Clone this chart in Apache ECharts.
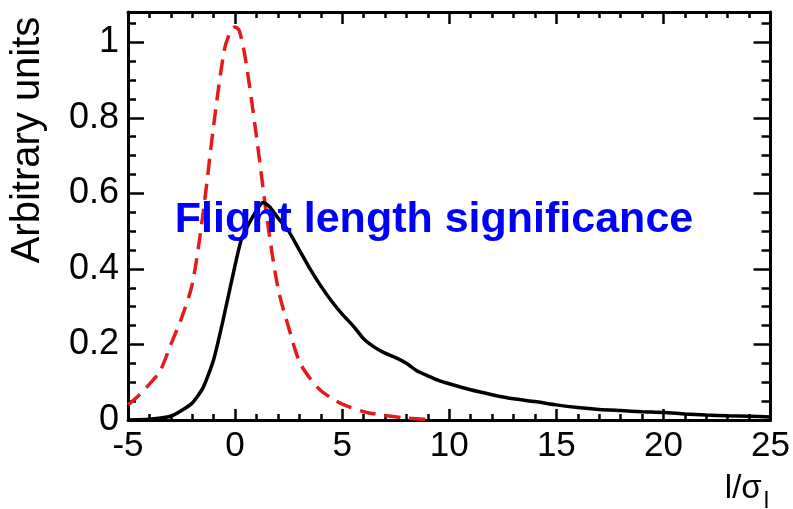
<!DOCTYPE html>
<html>
<head>
<meta charset="utf-8">
<script src="https://cdn.jsdelivr.net/npm/echarts@6/dist/echarts.min.js"></script>
<style>html,body{margin:0;padding:0;background:#fff;}#c{width:793px;height:509px;}</style>
</head>
<body>
<div id="c"></div>
<script>
// Red dashed curve (resolution-like distribution)
var redX = [-5, -4.5, -4, -3.5, -3, -2.5, -2, -1.5, -1, -0.5, -0.2, 0, 0.2, 0.5, 1, 1.5, 2, 2.5, 3, 3.5, 4, 4.5, 5, 6, 7, 8, 9];
var redY = [0.04, 0.065, 0.095, 0.13, 0.2, 0.27, 0.36, 0.545, 0.78, 0.98, 1.03, 1.04, 1.03, 0.95, 0.75, 0.53, 0.35, 0.245, 0.155, 0.11, 0.078, 0.058, 0.042, 0.022, 0.012, 0.005, 0.002];
// Black solid curve (flight length significance distribution)
var blackX = [-5, -4, -3, -2.5, -2, -1.5, -1, -0.5, 0, 0.3, 0.6, 1, 1.3, 1.6, 2, 2.5, 3, 3.5, 4, 4.5, 5, 5.5, 6, 6.5, 7, 7.5, 8, 8.5, 9, 9.5, 10, 11, 12, 13, 14, 15, 16, 17, 18, 19, 20, 21, 22, 23, 24, 25];
var blackY = [0, 0.002, 0.01, 0.025, 0.045, 0.085, 0.16, 0.28, 0.41, 0.48, 0.515, 0.555, 0.576, 0.565, 0.535, 0.5, 0.45, 0.4, 0.355, 0.315, 0.28, 0.25, 0.215, 0.193, 0.177, 0.165, 0.15, 0.13, 0.117, 0.105, 0.096, 0.08, 0.067, 0.056, 0.049, 0.04, 0.033, 0.028, 0.025, 0.022, 0.02, 0.016, 0.013, 0.011, 0.01, 0.008];
var xTicks = [-5, 0, 5, 10, 15, 20, 25];
var yTicks = [0, 0.2, 0.4, 0.6, 0.8, 1];
var titleText = 'Flight length significance';
var yName = 'Arbitrary units';

function pairs(xs, ys) { return xs.map(function (x, i) { return [x, ys[i]]; }); }

var FONT = 'Liberation Sans, Arial, sans-serif';
var chart = echarts.init(document.getElementById('c'), null, {renderer: 'canvas'});

function xAx(pos, showLabel, majLen, minLen) {
  return {
    type: 'value', position: pos, min: xTicks[0], max: xTicks[xTicks.length - 1], interval: 5,
    axisLine: {show: true, onZero: false, lineStyle: {color: '#000', width: 3}},
    axisTick: {show: true, inside: true, length: majLen, lineStyle: {color: '#000', width: 2.5}},
    minorTick: {show: true, splitNumber: 5, length: minLen, lineStyle: {color: '#000', width: 2.5}},
    splitLine: {show: false}, minorSplitLine: {show: false},
    axisLabel: {show: showLabel, color: '#000', fontSize: 35, fontFamily: FONT, margin: 9}
  };
}
function yAx(pos, showLabel, majLen, minLen) {
  return {
    type: 'value', position: pos, min: 0, max: 1.08, interval: 0.2,
    axisLine: {show: true, onZero: false, lineStyle: {color: '#000', width: 3}},
    axisTick: {show: true, inside: true, length: majLen, lineStyle: {color: '#000', width: 2.5}},
    minorTick: {show: true, splitNumber: 4, length: minLen, lineStyle: {color: '#000', width: 2.5}},
    splitLine: {show: false}, minorSplitLine: {show: false},
    axisLabel: {show: showLabel, color: '#000', fontSize: 36, fontFamily: FONT, margin: 9,
      showMaxLabel: false,
      formatter: function (v) { return yTicks.some(function (t) { return Math.abs(t - v) < 1e-6; }) ? String(+v.toFixed(1)) : ''; }}
  };
}

chart.setOption({
  backgroundColor: '#fff',
  animation: false,
  grid: {left: 128, right: 21, top: 12, bottom: 89},
  xAxis: [xAx('bottom', true, 11, 6), xAx('top', false, 12, 6)],
  yAxis: [yAx('left', true, 16, 8), yAx('right', false, 17, 9)],
  series: [
    {type: 'line', xAxisIndex: 0, yAxisIndex: 0, data: pairs(redX, redY), smooth: 0.3, showSymbol: false,
      lineStyle: {color: '#e51a1a', width: 3.5, type: [16, 9]}, z: 3},
    {type: 'line', xAxisIndex: 0, yAxisIndex: 0, data: pairs(blackX, blackY), smooth: 0.2, showSymbol: false,
      lineStyle: {color: '#000', width: 3.5}, z: 4}
  ],
  graphic: [
    {type: 'text', x: 434, y: 220, z: 10,
      style: {text: titleText, align: 'center', verticalAlign: 'middle',
        fill: '#0000ff', font: 'bold 43px ' + FONT}},
    {type: 'text', x: 28, y: 140, rotation: Math.PI / 2, z: 10,
      style: {text: yName, align: 'center', verticalAlign: 'middle', fill: '#000', font: '40px ' + FONT}},
    {type: 'text', x: 769, y: 489, z: 10,
      style: {text: '{a|l/σ}{b|l}', align: 'right', verticalAlign: 'middle', fill: '#000',
        rich: {a: {fontSize: 33, fontFamily: FONT, fill: '#000'}, b: {fontSize: 24, fontFamily: FONT, fill: '#000', padding: [24, 0, 0, 2]}}}}
  ]
});
</script>
</body>
</html>
